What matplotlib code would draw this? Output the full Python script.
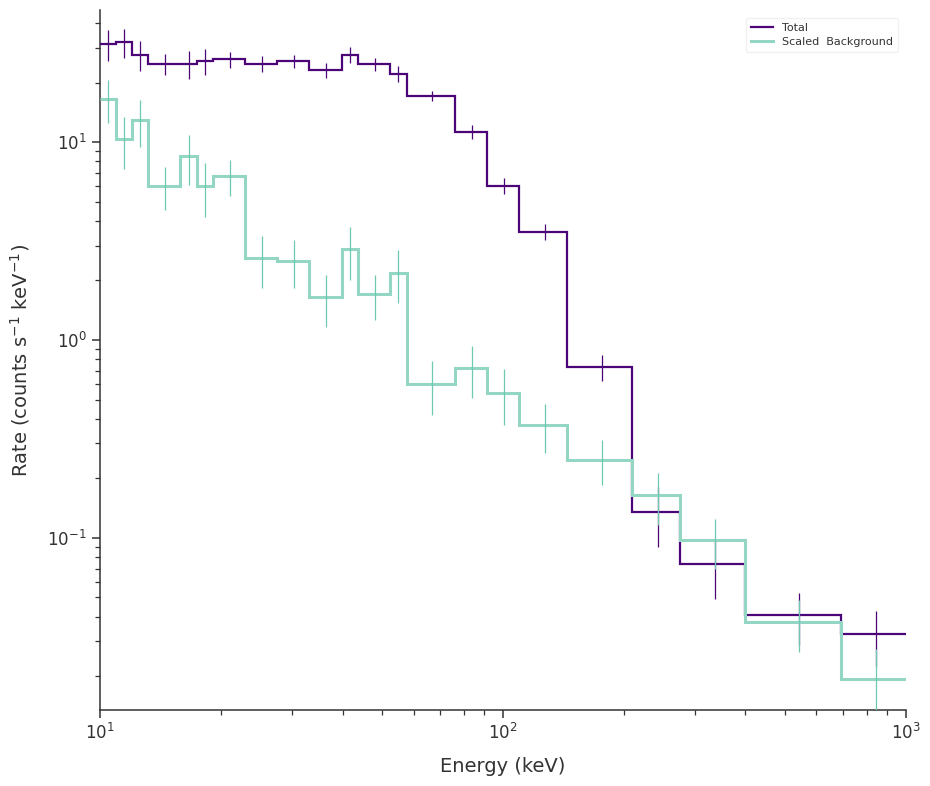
import numpy as np
import matplotlib
matplotlib.use("Agg")
import matplotlib.pyplot as plt

# Energy bin edges (keV)
energy_edges = [10.0, 10.99, 11.99, 13.15, 15.84, 17.41, 19.12, 22.9, 27.5, 33.0,
                39.9, 43.7, 52.4, 57.7, 76.0, 91.3, 109.6, 144.1, 209.0, 275.0,
                398.5, 690.0, 1000.0]

# Total rate (counts s^-1 keV^-1) and errors
total_rate = [31.3, 32.0, 27.7, 24.9, 24.9, 25.7, 26.2, 24.9, 25.7, 23.1,
              27.7, 24.7, 22.2, 17.1, 11.27, 6.02, 3.52, 0.733, 0.1358, 0.0739,
              0.0408, 0.0325]
total_err = [5.7, 5.5, 4.8, 3.0, 4.0, 3.8, 2.5, 2.3, 2.0, 2.0,
             2.5, 1.8, 2.0, 1.0, 0.9, 0.55, 0.32, 0.11, 0.046, 0.025,
             0.012, 0.010]

# Scaled background rate and errors
bkg_rate = [16.6, 10.36, 12.9, 6.02, 8.5, 6.02, 6.76, 2.59, 2.51, 1.65,
            2.87, 1.70, 2.19, 0.60, 0.722, 0.54, 0.372, 0.248, 0.165, 0.0973,
            0.0375, 0.0193]
bkg_err = [4.1, 3.05, 3.4, 1.5, 2.4, 1.85, 1.4, 0.75, 0.68, 0.49,
           0.86, 0.44, 0.65, 0.18, 0.21, 0.17, 0.105, 0.063, 0.049, 0.028,
           0.011, 0.008]

total_color = "#4b0577"
bkg_color = "#92d6c3"
bkg_err_color = "#6fc8b0"
text_color = "#333333"

edges = np.array(energy_edges)
centers = 0.5 * (edges[:-1] + edges[1:])

fig = plt.figure(figsize=(9.3, 7.86), dpi=100)
ax = fig.add_axes([0.1075, 0.0967, 0.8665, 0.8903])

ax.stairs(total_rate, edges, baseline=None, color=total_color, lw=1.6,
          label="Total", zorder=3)
ax.errorbar(centers, total_rate, yerr=total_err, fmt="none",
            ecolor=total_color, elinewidth=0.9, zorder=2)

ax.stairs(bkg_rate, edges, baseline=None, color=bkg_color, lw=2.2,
          label="Scaled  Background", zorder=4)
ax.errorbar(centers, bkg_rate, yerr=bkg_err, fmt="none",
            ecolor=bkg_err_color, elinewidth=0.9, zorder=4)

ax.set_xscale("log")
ax.set_yscale("log")
ax.set_xlim(10, 1000)
ax.set_ylim(0.0135, 46.4)

for s in ["top", "right"]:
    ax.spines[s].set_visible(False)
for s in ["left", "bottom"]:
    ax.spines[s].set_color(text_color)
    ax.spines[s].set_linewidth(1.1)

ax.tick_params(which="major", direction="out", length=6, width=1.1,
               colors=text_color, labelsize=12)
ax.tick_params(which="minor", direction="out", length=3.5, width=0.9,
               colors=text_color)

ax.set_xlabel("Energy (keV)", fontsize=14, color=text_color, labelpad=10)
ax.set_ylabel(r"Rate (counts s$^{-1}$ keV$^{-1}$)", fontsize=14, color=text_color,
              labelpad=11)

leg = ax.legend(loc="upper right", fontsize=8, frameon=True, fancybox=True,
                borderpad=0.45, handlelength=2.0, labelspacing=0.35,
                bbox_to_anchor=(0.997, 0.997))
leg.get_frame().set_edgecolor("#eeeeee")
for t in leg.get_texts():
    t.set_color(text_color)

fig.savefig("out.png", dpi=100)
